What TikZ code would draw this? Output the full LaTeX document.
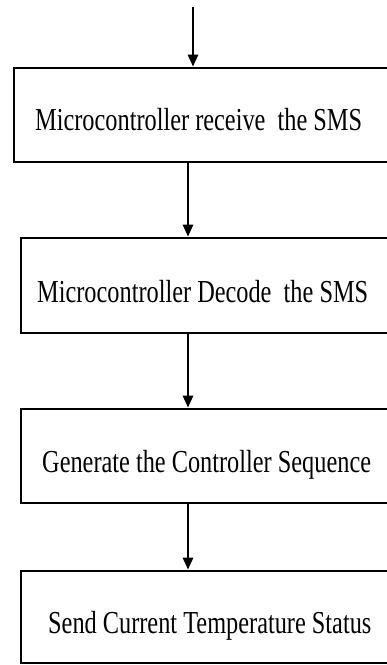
\documentclass[tikz,border=0pt]{standalone}
\usepackage{fontspec}
\setmainfont{Liberation Serif}
\usepackage{graphicx}
\usetikzlibrary{arrows.meta}
\tikzset{
  boxshape/.style={draw=black, line width=2.6pt, rectangle, inner sep=0pt},
  label text/.style={anchor=base west, inner sep=0pt, font=\fontsize{32}{36}\selectfont},
  arr/.style={line width=2.6pt, -{Triangle[length=12pt,width=10pt]}},
}
\newcommand{\sq}[1]{\scalebox{0.76}[1]{#1}}
\begin{document}
\begin{tikzpicture}[x=1pt,y=-1pt]
\useasboundingbox (0,0) rectangle (387,665);
\clip (0,0) rectangle (387,665);
% boxes (right side runs off the picture)
\node[boxshape, minimum width=390pt, minimum height=94pt] (b1) at (209,115) {};
\node[boxshape, minimum width=380pt, minimum height=95pt] (b2) at (211,285.5) {};
\node[boxshape, minimum width=380pt, minimum height=94pt] (b3) at (211,456) {};
\node[boxshape, minimum width=380pt, minimum height=92pt] (b4) at (211,617) {};
% texts
\node[label text] (t1) at (35,130) {\sq{Microcontroller receive~~the SMS}};
\node[label text] (t2) at (37,302) {\sq{Microcontroller Decode~~the SMS}};
\node[label text] (t3) at (42,472) {\sq{Generate the Controller Sequence}};
\node[label text] (t4) at (48,633) {\sq{Send Current Temperature Status}};
% connectors
\coordinate (top) at (193,7);
\coordinate (ax) at (188,0);
\draw[arr] (top) -- (top |- b1.north);
\draw[arr] (ax |- b1.south) -- (ax |- b2.north);
\draw[arr] (ax |- b2.south) -- (ax |- b3.north);
\draw[arr] (ax |- b3.south) -- (ax |- b4.north);
\end{tikzpicture}
\end{document}
